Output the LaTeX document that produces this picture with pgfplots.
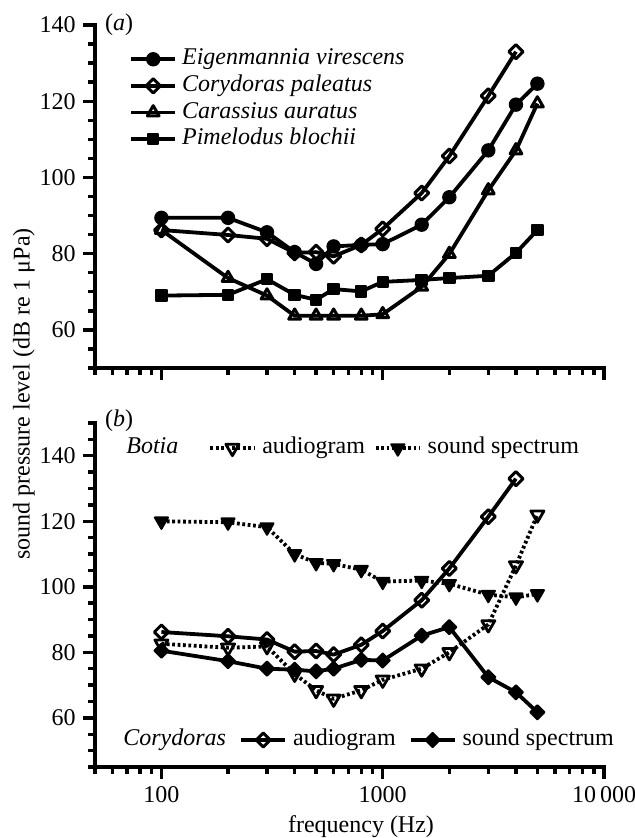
\documentclass[border=0pt]{standalone}
\usepackage{fontspec}
\setmainfont{Liberation Serif}
\usepackage{pgfplots}
\pgfplotsset{compat=1.18}

\newcommand\fs{\fontsize{12}{14}\selectfont}

\pgfplotsset{
  panel/.style={
    scale only axis, width=254.6pt,
    xmin=50, xmax=10000,
    axis x line=bottom, axis y line=left,
    axis line style={-, line width=2pt, line cap=rect},
    tick align=outside,
    major tick length=6pt, minor tick length=3.5pt,
    tick style={black, line width=1.7pt},
    xtick={100,1000,10000},
    minor xtick={50,60,70,80,90,200,300,400,500,600,700,800,900,
                 2000,3000,4000,5000,6000,7000,8000,9000},
    ytick={60,80,...,140},
    minor ytick={45,50,...,150},
    tick label style={font=\fs},
    /pgf/number format/assume math mode=true,
    clip=false,
    legend cell align=left,
    legend image code/.code={
      \draw[mark repeat=2,mark phase=2,##1]
        plot coordinates {(0pt,0pt) (11pt,0pt) (22pt,0pt)};},
  },
  ser/.style={black, line width=1.9pt, line join=round},
  dots/.style={dash pattern=on 1.4pt off 1.3pt},
  leg/.style={draw=none, fill=none, inner sep=0pt, font=\fs,
    nodes={inner sep=1pt, text height=8.5pt, text depth=2.8pt}},
  % marks
  mcirc/.style={mark=*, mark size=3.1pt, mark options={solid, fill=black, line width=1pt}},
  mdiao/.style={mark=square, mark size=2.5pt, mark options={solid, rotate=45, fill=white, line width=1.5pt}},
  mdiaf/.style={mark=square*, mark size=2.5pt, mark options={solid, rotate=45, fill=black, line width=1pt}},
  mtrio/.style={mark=triangle, mark size=3.4pt, mark options={solid, fill=white, line width=1.5pt}},
  msqf/.style={mark=square*, mark size=2.6pt, mark options={solid, fill=black, line width=1pt}},
  mdto/.style={mark=triangle, mark size=3.8pt, mark options={solid, rotate=180, fill=white, line width=1.4pt}},
  mdtf/.style={mark=triangle*, mark size=3.8pt, mark options={solid, rotate=180, fill=black, line width=1pt}},
}

\begin{document}
\begin{tikzpicture}
\useasboundingbox (0,0) rectangle (317.5pt,419pt);

% ---------- panel (a)
\begin{semilogxaxis}[panel, at={(47.4pt,235pt)}, anchor=south west,
  height=171.5pt, ymin=50, ymax=140, xticklabels={},
  legend style={leg, font=\fs\itshape, at={(0.067,0.94)}, anchor=north west,
    row sep=0pt,
    /tikz/every odd column/.append style={column sep=1.5pt}},
]
\addplot[ser, mcirc] coordinates {
  (100,89.4) (200,89.4) (300,85.6) (400,80.4) (500,77.3) (600,81.9) (800,82.3)
  (1000,82.5) (1500,87.6) (2000,94.8) (3000,107.1) (4000,119.1) (5000,124.6)};
\addlegendentry{Eigenmannia virescens}
\addplot[ser, mdiao] coordinates {
  (100,86.2) (200,84.9) (300,83.9) (400,80.2) (500,80.4) (600,79.3) (800,82.3)
  (1000,86.5) (1500,95.9) (2000,105.6) (3000,121.4) (4000,133.0)};
\addlegendentry{Corydoras paleatus}
\addplot[ser, mtrio] coordinates {
  (100,86.2) (200,73.6) (300,69.0) (400,63.7) (500,63.7) (600,63.7) (800,63.7)
  (1000,64.1) (1500,71.3) (2000,79.9) (3000,96.6) (4000,107.1) (5000,119.4)};
\addlegendentry{Carassius auratus}
\addplot[ser, msqf] coordinates {
  (100,69.0) (200,69.2) (300,73.3) (400,69.2) (500,67.9) (600,70.7) (800,70.1)
  (1000,72.6) (1500,73.1) (2000,73.6) (3000,74.2) (4000,80.2) (5000,86.2)};
\addlegendentry{Pimelodus blochii}
\end{semilogxaxis}

% ---------- panel (b): Botia
\begin{semilogxaxis}[panel, at={(47.4pt,35.5pt)}, anchor=south west,
  height=172pt, ymin=45, ymax=150,
  xticklabels={100,1000,10\,000},
  legend columns=-1,
  legend style={leg, at={(0.2225,0.927)}, anchor=west,
    /tikz/every odd column/.append style={column sep=2pt},
    /tikz/every even column/.append style={column sep=3.5pt}},
]
\addplot[ser, dots, mdto] coordinates {
  (100,82.6) (200,81.4) (300,81.8) (400,73.4) (500,68.4) (600,65.8) (800,68.4)
  (1000,71.6) (1500,75.0) (2000,80.0) (3000,88.5) (4000,106.5) (5000,122.0)};
\addlegendentry{audiogram}
\addplot[ser, dots, mdtf] coordinates {
  (100,120.0) (200,119.7) (300,118.2) (400,110.0) (500,107.3) (600,107.0) (800,105.2)
  (1000,101.6) (1500,101.9) (2000,100.9) (3000,97.6) (4000,96.8) (5000,97.8)};
\addlegendentry{sound spectrum}
\end{semilogxaxis}

% ---------- panel (b): Corydoras
\begin{semilogxaxis}[panel, at={(47.4pt,35.5pt)}, anchor=south west,
  height=172pt, ymin=45, ymax=150, hide axis,
  legend columns=-1,
  legend style={leg, at={(0.283,0.0785)}, anchor=west,
    /tikz/every odd column/.append style={column sep=2pt},
    /tikz/every even column/.append style={column sep=5.5pt}},
]
\addplot[ser, mdiao] coordinates {
  (100,86.2) (200,84.9) (300,83.9) (400,80.2) (500,80.4) (600,79.3) (800,82.3)
  (1000,86.5) (1500,95.9) (2000,105.6) (3000,121.4) (4000,133.0)};
\addlegendentry{audiogram}
\addplot[ser, mdiaf] coordinates {
  (100,80.5) (200,77.3) (300,75.0) (400,74.7) (500,74.2) (600,75.0) (800,77.7)
  (1000,77.5) (1500,85.1) (2000,87.7) (3000,72.4) (4000,67.8) (5000,61.7)};
\addlegendentry{sound spectrum}
\end{semilogxaxis}

% ---------- text
\begin{scope}[font=\fs, every node/.style={inner sep=1pt, text height=8.5pt, text depth=2.8pt}]
\node at (59.5pt,406.5pt) {(\textit{a})};
\node at (59.5pt,208.5pt) {(\textit{b})};
\node[anchor=west] at (62pt,195pt) {\textit{Botia}};
\node[anchor=west] at (60.5pt,49pt) {\textit{Corydoras}};
\node[rotate=90] at (12pt,222pt) {sound pressure level (dB re 1 μPa)};
\node at (180.5pt,5.5pt) {frequency (Hz)};
\end{scope}
\end{tikzpicture}
\end{document}
